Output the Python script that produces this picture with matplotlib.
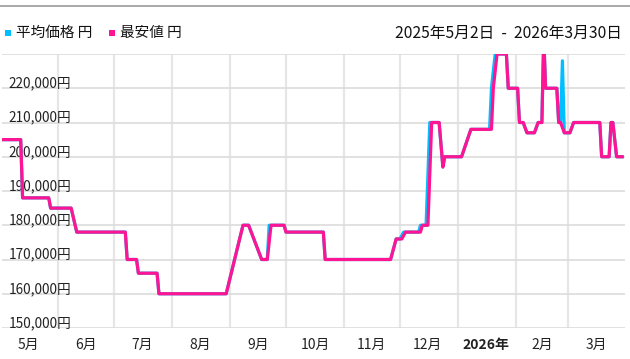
import pandas as pd
import matplotlib
matplotlib.use("Agg")
import matplotlib.pyplot as plt
import matplotlib.dates as mdates
from matplotlib.patches import Rectangle
from matplotlib.lines import Line2D

plt.rcParams['font.family'] = ['Noto Sans CJK JP', 'DejaVu Sans']

# 最安値 円 (pink)
low_dates = ["2025-05-02", "2025-05-12", "2025-05-13", "2025-05-27", "2025-05-28",
             "2025-06-08", "2025-06-11", "2025-07-07", "2025-07-08", "2025-07-13",
             "2025-07-14", "2025-07-24", "2025-07-25", "2025-08-30", "2025-09-08",
             "2025-09-11", "2025-09-18", "2025-09-21", "2025-09-23", "2025-09-30",
             "2025-10-01", "2025-10-21", "2025-10-22", "2025-11-26", "2025-11-29",
             "2025-12-02", "2025-12-04", "2025-12-12", "2025-12-13", "2025-12-16",
             "2025-12-18", "2025-12-22", "2025-12-24", "2025-12-25", "2026-01-03",
             "2026-01-08", "2026-01-19", "2026-01-20", "2026-01-22", "2026-01-27",
             "2026-01-28", "2026-02-02", "2026-02-03", "2026-02-05", "2026-02-07",
             "2026-02-11", "2026-02-13", "2026-02-15", "2026-02-16", "2026-02-17",
             "2026-02-23", "2026-02-24", "2026-02-25", "2026-02-27", "2026-03-02",
             "2026-03-04", "2026-03-18", "2026-03-19", "2026-03-23", "2026-03-24",
             "2026-03-25", "2026-03-27", "2026-03-30"]
low_prices = [205000, 205000, 188000, 188000, 185000,
              185000, 178000, 178000, 170000, 170000,
              166000, 166000, 160000, 160000, 180000,
              180000, 170000, 170000, 180000, 180000,
              178000, 178000, 170000, 170000, 176000,
              176000, 178000, 178000, 180000, 180000,
              210000, 210000, 197000, 200000, 200000,
              208000, 208000, 220000, 230000, 230000,
              220000, 220000, 210000, 210000, 207000,
              207000, 210000, 210000, 235000, 220000,
              220000, 210000, 210000, 207000, 207000,
              210000, 210000, 200000, 200000, 210000,
              210000, 200000, 200000]

# 平均価格 円 (blue)
avg_dates = ["2025-05-02", "2025-05-12", "2025-05-13", "2025-05-27", "2025-05-28",
             "2025-06-08", "2025-06-11", "2025-07-07", "2025-07-08", "2025-07-13",
             "2025-07-14", "2025-07-24", "2025-07-25", "2025-08-30", "2025-09-08",
             "2025-09-11", "2025-09-18", "2025-09-21", "2025-09-22", "2025-09-30",
             "2025-10-01", "2025-10-21", "2025-10-22", "2025-11-26", "2025-11-29",
             "2025-12-01", "2025-12-03", "2025-12-11", "2025-12-12", "2025-12-15",
             "2025-12-17", "2025-12-22", "2025-12-24", "2025-12-25", "2026-01-03",
             "2026-01-08", "2026-01-18", "2026-01-19", "2026-01-21", "2026-01-27",
             "2026-01-28", "2026-02-02", "2026-02-03", "2026-02-05", "2026-02-07",
             "2026-02-11", "2026-02-13", "2026-02-15", "2026-02-16", "2026-02-17",
             "2026-02-23", "2026-02-24", "2026-02-25", "2026-02-26", "2026-02-27",
             "2026-03-02", "2026-03-04", "2026-03-18", "2026-03-19", "2026-03-23",
             "2026-03-24", "2026-03-25", "2026-03-27", "2026-03-30"]
avg_prices = [205000, 205000, 188000, 188000, 185000,
              185000, 178000, 178000, 170000, 170000,
              166000, 166000, 160000, 160000, 180000,
              180000, 170000, 170000, 180000, 180000,
              178000, 178000, 170000, 170000, 176000,
              176000, 178000, 178000, 180000, 180000,
              210000, 210000, 197000, 200000, 200000,
              208000, 208000, 220000, 230000, 230000,
              220000, 220000, 210000, 210000, 207000,
              207000, 210000, 210000, 235000, 220000,
              220000, 210000, 210000, 228000, 207000,
              207000, 210000, 210000, 200000, 200000,
              210000, 210000, 200000, 200000]

month_starts = ["2025-06-01", "2025-07-01", "2025-08-01", "2025-09-01", "2025-10-01",
                "2025-11-01", "2025-12-01", "2026-01-01", "2026-02-01", "2026-03-01"]
label_dates = ["2025-05-16", "2025-06-16", "2025-07-16", "2025-08-16", "2025-09-16",
               "2025-10-17", "2025-11-16", "2025-12-16", "2026-01-16", "2026-02-15",
               "2026-03-16"]
month_labels = ["5月", "6月", "7月", "8月", "9月", "10月", "11月", "12月", "2026年", "2月", "3月"]
y_ticks = [150000, 160000, 170000, 180000, 190000, 200000, 210000, 220000, 230000]

BLUE = "#00bfff"
PINK = "#ff1493"

fig = plt.figure(figsize=(6.3, 3.59), dpi=100)
ax = fig.add_axes([2/630, 1 - 328/359, 623/630, 274/359])

ax.plot(pd.to_datetime(avg_dates), avg_prices, color=BLUE, lw=2.3, zorder=3)
ax.plot(pd.to_datetime(low_dates), low_prices, color=PINK, lw=2.3, zorder=4)

start = mdates.date2num(pd.Timestamp("2025-05-02"))
ax.set_xlim(start - 0.02, start + 333.5)
ax.set_ylim(150000, 230000)

ax.set_yticks(y_ticks)
ax.tick_params(axis='y', left=False, labelleft=False)
for v in y_ticks[:-1]:
    ax.text(0.011, v + 250, f"{v:,}円", transform=ax.get_yaxis_transform(),
            va='baseline', ha='left', fontsize=9.8, color='#222222', zorder=2)

ax.set_xticks(pd.to_datetime(month_starts))
ax.set_xticks(pd.to_datetime(label_dates), minor=True)
ax.set_xticklabels([], minor=False)
ax.set_xticklabels(month_labels, minor=True)
ax.tick_params(axis='x', which='both', length=0, pad=7, labelsize=10, labelcolor='#222222')
for lab in ax.get_xticklabels(minor=True):
    if lab.get_text() == "2026年":
        lab.set_fontweight('bold')

ax.grid(axis='y', color='#dcdcdc', lw=1.2, zorder=0)
ax.grid(axis='x', which='major', color='#e6e6e6', lw=1.6, zorder=0)
for s in ax.spines.values():
    s.set_visible(False)

# top rule and legend
fig.add_artist(Line2D([0, 1], [1 - 6/359, 1 - 6/359], transform=fig.transFigure,
                      color='#999999', lw=1.2))
fig.add_artist(Rectangle((5/630, 1 - 36/359), 6/630, 6/359, transform=fig.transFigure,
                         color=BLUE, lw=0))
fig.text(16/630, 1 - 33/359, "平均価格 円", va='center', ha='left', fontsize=10.5, color='#111111')
fig.add_artist(Rectangle((109/630, 1 - 36/359), 6/630, 6/359, transform=fig.transFigure,
                         color=PINK, lw=0))
fig.text(120/630, 1 - 33/359, "最安値 円", va='center', ha='left', fontsize=10.5, color='#111111')
fig.text(622/630, 1 - 33/359, "2025年5月2日  -  2026年3月30日", va='center', ha='right',
         fontsize=11.3, color='#111111')

fig.savefig("out.png", dpi=100)
